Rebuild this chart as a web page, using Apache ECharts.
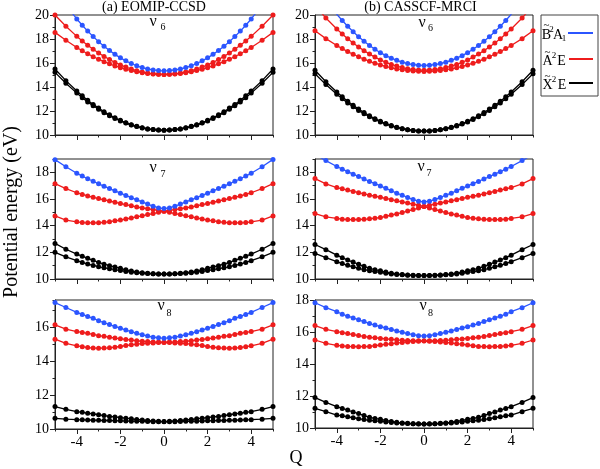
<!DOCTYPE html>
<html><head><meta charset="utf-8">
<script src="https://cdn.jsdelivr.net/npm/echarts@6/dist/echarts.min.js"></script>
<style>html,body{margin:0;padding:0;background:#fff}#c{width:600px;height:469px}</style>
</head><body><div id="c"></div>
<script>
// Displacement coordinate Q
const Q = [-5,-4.5,-4,-3.75,-3.5,-3.25,-3,-2.75,-2.5,-2.25,-2,-1.75,-1.5,-1.25,-1,-0.75,-0.5,-0.25,0,0.25,0.5,0.75,1,1.25,1.5,1.75,2,2.25,2.5,2.75,3,3.25,3.5,3.75,4,4.5,5];
const xTickLabels = [-4,-2,0,2,4];
const yLabelsTop = [10,12,14,16,18,20];
const yLabelsMid = [10,12,14,16,18];
const yLabelsBotL = [10,12,14,16];
const yLabelsBotR = [10,12,14,16,18];

// (a) EOMIP-CCSD, nu6
const tl_B  = [22.1,20.82,19.67,19.15,18.66,18.2,17.78,17.39,17.04,16.72,16.43,16.18,15.96,15.77,15.62,15.5,15.42,15.37,15.35,15.37,15.42,15.5,15.62,15.77,15.96,16.18,16.43,16.72,17.04,17.39,17.78,18.2,18.66,19.15,19.67,20.82,22.1];
const tl_A1 = [20.0,19.06,18.22,17.83,17.48,17.14,16.83,16.55,16.29,16.05,15.84,15.66,15.5,15.36,15.25,15.16,15.1,15.06,15.05,15.06,15.1,15.16,15.25,15.36,15.5,15.66,15.84,16.05,16.29,16.55,16.83,17.14,17.48,17.83,18.22,19.06,20.0];
const tl_A2 = [18.55,17.89,17.29,17.02,16.77,16.53,16.31,16.11,15.93,15.76,15.61,15.48,15.37,15.27,15.19,15.13,15.09,15.06,15.05,15.06,15.09,15.13,15.19,15.27,15.37,15.48,15.61,15.76,15.93,16.11,16.31,16.53,16.77,17.02,17.29,17.89,18.55];
const tl_X1 = [15.5,14.53,13.66,13.27,12.9,12.55,12.24,11.94,11.68,11.43,11.22,11.02,10.86,10.72,10.6,10.51,10.45,10.41,10.4,10.41,10.45,10.51,10.6,10.72,10.86,11.02,11.22,11.43,11.68,11.94,12.24,12.55,12.9,13.27,13.66,14.53,15.5];
const tl_X2 = [15.22,14.31,13.49,13.11,12.76,12.44,12.14,11.86,11.61,11.38,11.17,10.99,10.83,10.7,10.59,10.51,10.45,10.41,10.4,10.41,10.45,10.51,10.59,10.7,10.83,10.99,11.17,11.38,11.61,11.86,12.14,12.44,12.76,13.11,13.49,14.31,15.22];
// (b) CASSCF-MRCI, nu6
const tr_B  = [22.45,21.19,20.06,19.54,19.06,18.61,18.19,17.81,17.46,17.15,16.86,16.61,16.4,16.22,16.07,15.95,15.87,15.82,15.8,15.82,15.87,15.95,16.07,16.22,16.4,16.61,16.86,17.15,17.46,17.81,18.19,18.61,19.06,19.54,20.06,21.19,22.45];
const tr_A1 = [20.78,19.75,18.84,18.42,18.03,17.67,17.34,17.03,16.74,16.49,16.26,16.06,15.88,15.74,15.62,15.52,15.45,15.41,15.4,15.41,15.45,15.52,15.62,15.74,15.88,16.06,16.26,16.49,16.74,17.03,17.34,17.67,18.03,18.42,18.84,19.75,20.78];
const tr_A2 = [18.68,18.03,17.46,17.2,16.95,16.73,16.52,16.32,16.14,15.98,15.84,15.71,15.6,15.51,15.44,15.38,15.33,15.31,15.3,15.31,15.33,15.38,15.44,15.51,15.6,15.71,15.84,15.98,16.14,16.32,16.52,16.73,16.95,17.2,17.46,18.03,18.68];
const tr_X1 = [15.4,14.44,13.58,13.18,12.82,12.47,12.16,11.87,11.6,11.36,11.14,10.95,10.79,10.65,10.53,10.44,10.38,10.34,10.33,10.34,10.38,10.44,10.53,10.65,10.79,10.95,11.14,11.36,11.6,11.87,12.16,12.47,12.82,13.18,13.58,14.44,15.4];
const tr_X2 = [15.1,14.2,13.39,13.02,12.67,12.35,12.05,11.77,11.52,11.3,11.09,10.91,10.76,10.63,10.52,10.44,10.38,10.34,10.33,10.34,10.38,10.44,10.52,10.63,10.76,10.91,11.09,11.3,11.52,11.77,12.05,12.35,12.67,13.02,13.39,14.2,15.1];
// (a) nu7
const ml_B  = [18.95,18.42,17.93,17.72,17.52,17.33,17.14,16.96,16.78,16.61,16.44,16.27,16.1,15.94,15.78,15.62,15.46,15.33,15.28,15.33,15.46,15.62,15.78,15.94,16.1,16.27,16.44,16.61,16.78,16.96,17.14,17.33,17.52,17.72,17.93,18.42,18.97];
const ml_A1 = [17.15,16.78,16.47,16.34,16.23,16.13,16.03,15.94,15.85,15.76,15.66,15.58,15.49,15.4,15.33,15.27,15.21,15.14,15.08,15.14,15.21,15.27,15.33,15.4,15.49,15.58,15.66,15.76,15.85,15.94,16.03,16.13,16.23,16.34,16.47,16.78,17.15];
const ml_A2 = [14.73,14.42,14.29,14.23,14.21,14.21,14.22,14.25,14.3,14.36,14.42,14.5,14.58,14.66,14.74,14.83,14.91,15.0,15.08,15.0,14.91,14.83,14.74,14.66,14.58,14.5,14.42,14.36,14.3,14.25,14.22,14.21,14.21,14.23,14.29,14.42,14.73];
const ml_X1 = [12.67,12.23,11.87,11.71,11.55,11.4,11.24,11.11,11.0,10.9,10.8,10.69,10.6,10.53,10.47,10.43,10.4,10.38,10.37,10.38,10.4,10.43,10.47,10.53,10.6,10.69,10.8,10.9,11.0,11.11,11.24,11.4,11.55,11.71,11.87,12.23,12.67];
const ml_X2 = [12.0,11.66,11.37,11.24,11.12,11.02,10.92,10.84,10.77,10.7,10.63,10.57,10.51,10.47,10.43,10.41,10.39,10.38,10.37,10.38,10.39,10.41,10.43,10.47,10.51,10.57,10.63,10.7,10.77,10.84,10.92,11.02,11.12,11.24,11.37,11.66,12.0];
// (b) nu7
const mr_B  = [19.34,18.88,18.44,18.24,18.05,17.86,17.68,17.5,17.32,17.15,16.98,16.8,16.62,16.44,16.28,16.12,15.96,15.84,15.78,15.84,15.96,16.12,16.28,16.44,16.62,16.8,16.98,17.15,17.32,17.5,17.68,17.86,18.05,18.24,18.44,18.88,19.34];
const mr_A1 = [17.53,17.13,16.86,16.76,16.67,16.57,16.47,16.38,16.29,16.21,16.13,16.04,15.95,15.86,15.78,15.7,15.61,15.53,15.44,15.53,15.61,15.7,15.78,15.86,15.95,16.04,16.13,16.21,16.29,16.38,16.47,16.57,16.67,16.76,16.86,17.13,17.53];
const mr_A2 = [14.91,14.66,14.54,14.49,14.46,14.46,14.46,14.48,14.51,14.56,14.61,14.7,14.8,14.88,14.98,15.1,15.21,15.32,15.43,15.32,15.21,15.1,14.98,14.88,14.8,14.7,14.61,14.56,14.51,14.48,14.46,14.46,14.46,14.49,14.54,14.66,14.91];
const mr_X1 = [12.59,12.2,11.79,11.6,11.42,11.27,11.1,10.95,10.8,10.7,10.61,10.52,10.44,10.38,10.33,10.3,10.28,10.27,10.26,10.27,10.28,10.3,10.33,10.38,10.44,10.52,10.61,10.7,10.8,10.95,11.1,11.27,11.42,11.6,11.79,12.2,12.59];
const mr_X2 = [11.92,11.6,11.3,11.16,11.03,10.91,10.8,10.7,10.62,10.56,10.5,10.43,10.38,10.34,10.31,10.29,10.27,10.26,10.26,10.26,10.27,10.29,10.31,10.34,10.38,10.43,10.5,10.56,10.62,10.7,10.8,10.91,11.03,11.16,11.3,11.6,11.92];
// (a) nu8
const bl_B  = [17.45,17.16,16.87,16.75,16.63,16.52,16.38,16.26,16.15,16.04,15.94,15.83,15.73,15.64,15.55,15.48,15.41,15.37,15.35,15.37,15.41,15.48,15.55,15.64,15.73,15.83,15.94,16.04,16.15,16.26,16.38,16.52,16.63,16.75,16.87,17.16,17.45];
const bl_A1 = [16.14,15.88,15.74,15.69,15.64,15.57,15.5,15.46,15.41,15.36,15.31,15.28,15.24,15.2,15.17,15.15,15.13,15.12,15.11,15.12,15.13,15.15,15.17,15.2,15.24,15.28,15.31,15.36,15.41,15.46,15.5,15.57,15.64,15.69,15.74,15.88,16.14];
const bl_A2 = [15.29,15.05,14.9,14.85,14.8,14.77,14.76,14.77,14.78,14.82,14.86,14.92,14.96,15.0,15.03,15.05,15.07,15.09,15.1,15.09,15.07,15.05,15.03,15.0,14.96,14.92,14.86,14.82,14.78,14.77,14.76,14.77,14.8,14.85,14.9,15.05,15.29];
const bl_X1 = [11.32,11.16,11.02,10.98,10.93,10.89,10.84,10.79,10.74,10.71,10.67,10.64,10.6,10.56,10.53,10.5,10.47,10.45,10.44,10.45,10.47,10.5,10.53,10.56,10.6,10.64,10.67,10.71,10.74,10.79,10.84,10.89,10.93,10.98,11.02,11.16,11.32];
const bl_X2 = [10.63,10.58,10.55,10.54,10.53,10.52,10.51,10.5,10.5,10.49,10.48,10.47,10.46,10.45,10.45,10.44,10.43,10.43,10.43,10.43,10.43,10.44,10.45,10.45,10.46,10.47,10.48,10.49,10.5,10.5,10.51,10.52,10.53,10.54,10.55,10.58,10.63];
// (b) nu8
const br_B  = [17.83,17.52,17.27,17.11,16.99,16.88,16.76,16.65,16.53,16.43,16.33,16.25,16.16,16.07,15.98,15.9,15.83,15.77,15.75,15.77,15.83,15.9,15.98,16.07,16.16,16.25,16.33,16.43,16.53,16.65,16.76,16.88,16.99,17.11,17.27,17.52,17.83];
const br_A1 = [16.4,16.17,16.02,15.96,15.9,15.84,15.78,15.72,15.67,15.64,15.6,15.57,15.54,15.51,15.48,15.47,15.46,15.45,15.45,15.45,15.46,15.47,15.48,15.51,15.54,15.57,15.6,15.64,15.67,15.72,15.78,15.84,15.9,15.96,16.02,16.17,16.4];
const br_A2 = [15.5,15.29,15.17,15.13,15.1,15.09,15.08,15.09,15.1,15.14,15.19,15.23,15.27,15.31,15.35,15.38,15.4,15.42,15.43,15.42,15.4,15.38,15.35,15.31,15.27,15.23,15.19,15.14,15.1,15.09,15.08,15.09,15.1,15.13,15.17,15.29,15.5];
const br_X1 = [11.9,11.6,11.33,11.22,11.12,11.0,10.9,10.78,10.67,10.6,10.54,10.47,10.41,10.36,10.31,10.29,10.27,10.26,10.25,10.26,10.27,10.29,10.31,10.36,10.41,10.47,10.54,10.6,10.67,10.78,10.9,11.0,11.12,11.22,11.33,11.6,11.9];
const br_X2 = [11.23,11.02,10.81,10.76,10.7,10.64,10.58,10.53,10.48,10.45,10.42,10.38,10.35,10.32,10.3,10.28,10.26,10.25,10.25,10.25,10.26,10.28,10.3,10.32,10.35,10.38,10.42,10.45,10.48,10.53,10.58,10.64,10.7,10.76,10.81,11.02,11.23];

const BLUE = '#2b55ff', RED = '#ee1c1c', BLACK = '#000000';
const FONT = '"Liberation Serif","Times New Roman",serif';

const panels = [
  {grid:{left:55, top:15, width:218, height:120}, yMax:20, yLabels:yLabelsTop, xLab:false,
   curves:[[tl_X1,BLACK],[tl_X2,BLACK],[tl_A2,RED],[tl_A1,RED],[tl_B,BLUE]]},
  {grid:{left:315, top:15, width:218, height:120}, yMax:20, yLabels:yLabelsTop, xLab:false,
   curves:[[tr_X1,BLACK],[tr_X2,BLACK],[tr_A2,RED],[tr_A1,RED],[tr_B,BLUE]]},
  {grid:{left:55, top:159, width:218, height:120}, yMax:19, yLabels:yLabelsMid, xLab:false,
   curves:[[ml_X1,BLACK],[ml_X2,BLACK],[ml_A2,RED],[ml_A1,RED],[ml_B,BLUE]]},
  {grid:{left:315, top:159, width:218, height:120}, yMax:19, yLabels:yLabelsMid, xLab:false,
   curves:[[mr_X1,BLACK],[mr_X2,BLACK],[mr_A2,RED],[mr_A1,RED],[mr_B,BLUE]]},
  {grid:{left:55, top:300, width:218, height:129}, yMax:17.6, yLabels:yLabelsBotL, xLab:true,
   curves:[[bl_X1,BLACK],[bl_X2,BLACK],[bl_A2,RED],[bl_A1,RED],[bl_B,BLUE]]},
  {grid:{left:315, top:300, width:218, height:128}, yMax:18, yLabels:yLabelsBotR, xLab:true,
   curves:[[br_X1,BLACK],[br_X2,BLACK],[br_A2,RED],[br_A1,RED],[br_B,BLUE]]}
];

const AX = '#222';
const grids = [], xAxes = [], yAxes = [], series = [];
panels.forEach((p, i) => {
  grids.push(Object.assign({show:true, borderColor:AX, borderWidth:1, backgroundColor:'#fff'}, p.grid));
  xAxes.push({type:'value', gridIndex:i, position:'bottom', min:-5, max:5, interval:1,
    axisLine:{show:true, onZero:false, lineStyle:{color:AX, width:1}},
    axisTick:{show:true, length:2.5, lineStyle:{color:AX}},
    axisLabel:{show:p.xLab, customValues:xTickLabels, fontFamily:FONT, fontSize:15, color:'#000', margin:6},
    splitLine:{show:false}});
  yAxes.push({type:'value', gridIndex:i, position:'left', min:10, max:p.yMax, interval:1,
    axisLine:{show:true, onZero:false, lineStyle:{color:AX, width:1}},
    axisTick:{show:true, length:2.5, lineStyle:{color:AX}},
    axisLabel:{show:true, customValues:p.yLabels, fontFamily:FONT, fontSize:14, color:'#000', margin:6},
    splitLine:{show:false}});
});
panels.forEach((p, i) => {
  xAxes.push({type:'value', gridIndex:i, position:'bottom', min:-5, max:5,
    axisLine:{show:false, onZero:false}, axisTick:{show:true, length:5, customValues:xTickLabels, lineStyle:{color:AX}},
    axisLabel:{show:false}, splitLine:{show:false}});
  yAxes.push({type:'value', gridIndex:i, position:'left', min:10, max:p.yMax,
    axisLine:{show:false, onZero:false}, axisTick:{show:true, length:5, customValues:p.yLabels, lineStyle:{color:AX}},
    axisLabel:{show:false}, splitLine:{show:false}});
  p.curves.forEach(([vals, color]) => {
    series.push({type:'line', xAxisIndex:i, yAxisIndex:i,
      data:Q.map((q, k) => [q, vals[k]]),
      symbol:'circle', symbolSize:5, showSymbol:true, silent:true,
      lineStyle:{color:color, width:1.3}, itemStyle:{color:color},
      emphasis:{disabled:true}, animation:false, clip:true});
  });
});

function txt(x, y, text, size, extra) {
  return Object.assign({type:'text', x:x, y:y, style:{text:text, font:size + 'px ' + FONT, fill:'#000',
    textAlign:'center', textVerticalAlign:'middle'}}, extra || {});
}
const graphic = [
  txt(154, 7, '(a) EOMIP-CCSD', 14),
  txt(420.5, 7, '(b) CASSCF-MRCI', 14),
  txt(12, 212, 'Potential energy (eV)', 20, {rotation:Math.PI/2}),
  txt(296, 458, 'Q', 18),
  // mode labels
  txt(153, 21.5, 'ν', 16), txt(163, 27, '6', 10),
  txt(153, 168, 'ν', 16), txt(163, 174, '7', 10),
  txt(161, 306, 'ν', 16), txt(169, 313, '8', 10),
  txt(422, 23, 'ν', 16), txt(430.5, 28, '6', 10),
  txt(421, 167, 'ν', 16), txt(429, 173.5, '7', 10),
  txt(423, 306, 'ν', 16), txt(430.5, 313, '8', 10),
  // legend
  {type:'rect', shape:{x:541, y:15, width:57, height:81}, style:{fill:'#fff', stroke:'#444', lineWidth:1}},
  txt(546.5, 35, 'B', 14), txt(546.5, 25, '~', 11), txt(551.5, 29.5, '2', 9), txt(558, 35, 'A', 14), txt(564, 39, '1', 9),
  {type:'line', shape:{x1:568, y1:33, x2:593, y2:33}, style:{stroke:BLUE, lineWidth:2}},
  txt(547.5, 61, 'A', 14), txt(547.5, 52, '~', 11), txt(554, 55.5, '2', 9), txt(561.5, 61, 'E', 14),
  {type:'line', shape:{x1:569, y1:59, x2:593, y2:59}, style:{stroke:RED, lineWidth:2}},
  txt(547.5, 85, 'X', 14), txt(547.5, 76, '~', 11), txt(554, 79.5, '2', 9), txt(562, 85, 'E', 14),
  {type:'line', shape:{x1:569, y1:83, x2:593, y2:83}, style:{stroke:BLACK, lineWidth:2}}
];

const chart = echarts.init(document.getElementById('c'), null, {renderer:'canvas'});
chart.setOption({animation:false, backgroundColor:'#fff', grid:grids, xAxis:xAxes, yAxis:yAxes, series:series, graphic:graphic});
</script></body></html>
